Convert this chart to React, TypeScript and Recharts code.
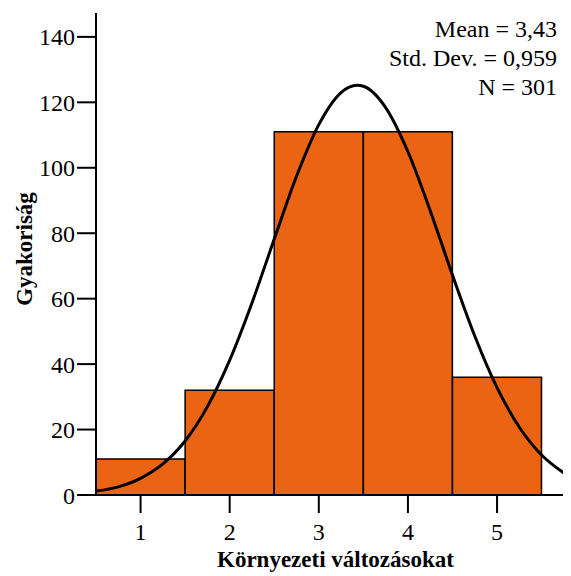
import React from "react";
import {
  ComposedChart,
  Bar,
  Line,
  XAxis,
  YAxis,
} from "recharts";

// histogram bins (bin centre) and their counts
const binCenters = [1, 2, 3, 4, 5];
const counts = [11, 32, 111, 111, 36];

// fitted normal curve
const curveX = [
  0.5, 0.75, 1, 1.25, 1.5, 1.75, 2, 2.25, 2.5, 2.75, 3, 3.25, 3.43, 3.5,
  3.75, 4, 4.25, 4.5, 4.75, 5, 5.25, 5.5, 5.75,
];
const curveY = [
  1.2, 2.5, 5.1, 9.5, 16.5, 27, 41.2, 58.7, 78.2, 97.4, 113.2, 123, 125.2,
  124.9, 118.4, 104.9, 86.9, 67.2, 48.6, 32.8, 20.7, 12.2, 6.7,
];

const yTicks = [0, 20, 40, 60, 80, 100, 120, 140];
const statLines = ["Mean = 3,43", "Std. Dev. = 0,959", "N = 301"];

const barData = binCenters.map((x, i) => ({ x, count: counts[i] }));
const curveData = curveX.map((x, i) => ({ x, y: curveY[i] }));

const FONT = '"Liberation Serif", "Times New Roman", "DejaVu Serif", serif';
const X_DOMAIN: [number, number] = [0.5, 5.74];
const Y_DOMAIN: [number, number] = [0, 147.3];

const tickStyle = { fontSize: 24, fill: "#000", style: { fontFamily: FONT } };

export default function App() {
  return (
    <div
      style={{
        position: "absolute",
        left: 0,
        top: 0,
        width: 571,
        height: 576,
        background: "#fff",
        fontFamily: FONT,
      }}
    >
      <ComposedChart
        width={571}
        height={576}
        data={barData}
        margin={{ top: 13, right: 8, bottom: 0, left: 0 }}
        barCategoryGap={0}
        barGap={0}
        style={{ fontFamily: FONT }}
      >
        <XAxis
          dataKey="x"
          type="number"
          domain={X_DOMAIN}
          allowDataOverflow
          ticks={binCenters}
          height={81}
          tickSize={18}
          tickMargin={10}
          tick={tickStyle}
          axisLine={{ stroke: "#000", strokeWidth: 2 }}
          tickLine={{ stroke: "#000", strokeWidth: 2 }}
          label={({ viewBox }: any) => (
            <text
              x={viewBox.x + viewBox.width / 2 + 6}
              y={567}
              textAnchor="middle"
              style={{ fontFamily: FONT }}
              fontWeight="bold"
              fontSize={23}
              fill="#000"
            >
              Környezeti változásokat
            </text>
          )}
        />
        <XAxis
          xAxisId="line"
          dataKey="x"
          type="number"
          orientation="top"
          domain={X_DOMAIN}
          allowDataOverflow
          height={0}
          tick={false}
          tickLine={false}
          axisLine={{ stroke: "#000", strokeWidth: 2 }}
        />
        <YAxis
          type="number"
          domain={Y_DOMAIN}
          allowDataOverflow
          ticks={yTicks}
          width={96}
          tickSize={19}
          tickMargin={2}
          tick={tickStyle}
          axisLine={{ stroke: "#000", strokeWidth: 2 }}
          tickLine={{ stroke: "#000", strokeWidth: 2 }}
          label={({ viewBox }: any) => {
            const cy = viewBox.y + viewBox.height / 2 - 5;
            return (
              <text
                x={32}
                y={cy}
                transform={`rotate(-90 32 ${cy})`}
                textAnchor="middle"
                style={{ fontFamily: FONT }}
                fontWeight="bold"
                fontSize={23}
                fill="#000"
              >
                Gyakoriság
              </text>
            );
          }}
        />
        <YAxis
          yAxisId="r"
          orientation="right"
          type="number"
          domain={Y_DOMAIN}
          width={0}
          tick={false}
          tickLine={false}
          axisLine={{ stroke: "#000", strokeWidth: 2 }}
        />
        <Bar
          dataKey="count"
          fill="#EA6414"
          stroke="#000"
          strokeWidth={1.5}
          isAnimationActive={false}
        />
        <Line
          xAxisId="line"
          data={curveData}
          dataKey="y"
          type="monotone"
          stroke="#000"
          strokeWidth={3}
          dot={false}
          activeDot={false}
          isAnimationActive={false}
        />
      </ComposedChart>
      <svg
        width={571}
        height={576}
        style={{ position: "absolute", left: 0, top: 0, pointerEvents: "none" }}
      >
        {statLines.map((t, i) => (
          <text
            key={t}
            x={557}
            y={37 + i * 29}
            textAnchor="end"
            style={{ fontFamily: FONT }}
            fontSize={24}
            fill="#000"
          >
            {t}
          </text>
        ))}
      </svg>
    </div>
  );
}
